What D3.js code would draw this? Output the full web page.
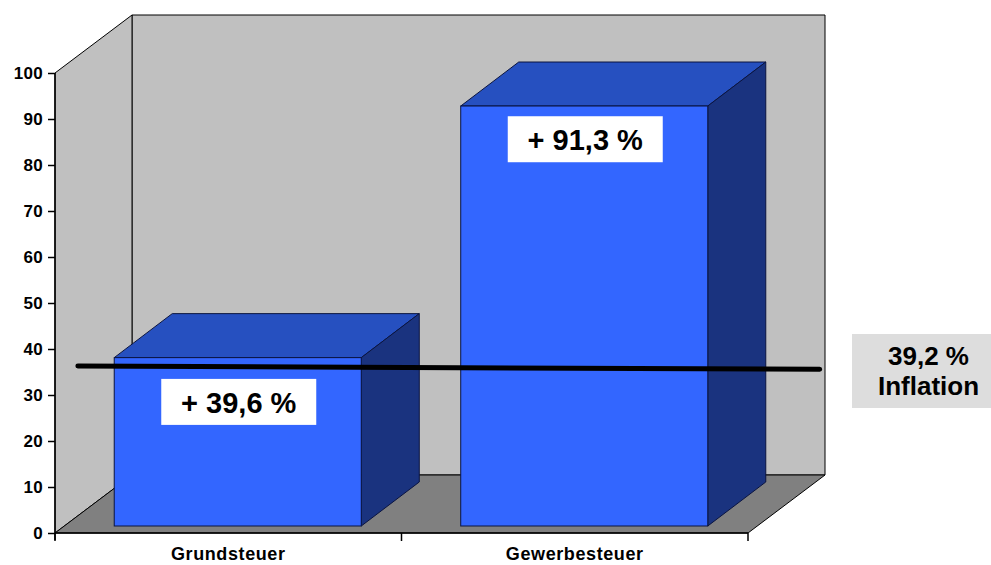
<!DOCTYPE html>
<html>
<head>
<meta charset="utf-8">
<script src="https://cdn.jsdelivr.net/npm/d3@7"></script>
<style>
  body { margin: 0; background: #fff; }
  svg { display: block; font-family: "Liberation Sans", Arial, sans-serif; }
  .tick text { font-weight: bold; }
</style>
</head>
<body>
<svg width="991" height="565"></svg>
<script>
// data
const categories = ['Grundsteuer', 'Gewerbesteuer'];
const barValues = [36.6, 91.3];
const barLabels = ['+ 39,6 %', '+ 91,3 %'];
const labelLevels = [28.5, 85.6];
const yTicks = [0, 10, 20, 30, 40, 50, 60, 70, 80, 90, 100];
const inflationLine = [36.3, 35.6];
const inflationText = ['39,2 %', 'Inflation'];

const svg = d3.select('svg');

// plot geometry
const x0 = 55, x1 = 748, yBottom = 533, yTop = 73;
const depth = { dx: 77, dy: -58 };     // wall depth
const barDepth = { dx: 58, dy: -44 };  // bar depth
const barOff = { dx: 9.5, dy: -7 };    // front gap of bars

const yScale = d3.scaleLinear().domain([0, 100]).range([yBottom, yTop]);
const xScale = d3.scaleBand().domain(categories).range([x0, x1]);
const xPos = d3.scaleLinear().domain([0, 2]).range([x0, x1]);

const poly = pts => 'M' + pts.map(p => p.join(',')).join('L') + 'Z';

// walls
const g = svg.append('g');
g.append('path')
  .attr('d', poly([[x0 + depth.dx, yTop + depth.dy], [x1 + depth.dx, yTop + depth.dy],
    [x1 + depth.dx, yBottom + depth.dy], [x0 + depth.dx, yBottom + depth.dy]]))
  .attr('fill', '#c0c0c0').attr('stroke', '#000').attr('stroke-width', 1);
g.append('path')
  .attr('d', poly([[x0, yBottom], [x0, yTop], [x0 + depth.dx, yTop + depth.dy], [x0 + depth.dx, yBottom + depth.dy]]))
  .attr('fill', '#c0c0c0').attr('stroke', '#000').attr('stroke-width', 1);
g.append('path')
  .attr('d', poly([[x0, yBottom], [x1, yBottom], [x1 + depth.dx, yBottom + depth.dy], [x0 + depth.dx, yBottom + depth.dy]]))
  .attr('fill', '#808080').attr('stroke', '#000').attr('stroke-width', 1);

// bars
const barW = xScale.bandwidth() * 0.713;
const bars = g.selectAll('g.bar').data(categories).enter().append('g').attr('class', 'bar');
bars.each(function (c, i) {
  const b = d3.select(this);
  const cx = xScale(c) + xScale.bandwidth() / 2 + barOff.dx;
  const l = cx - barW / 2, r = cx + barW / 2;
  const bot = yScale(0) + barOff.dy;
  const top = bot - (yScale(0) - yScale(barValues[i]));
  b.append('path')
    .attr('d', poly([[l, top], [r, top], [r + barDepth.dx, top + barDepth.dy], [l + barDepth.dx, top + barDepth.dy]]))
    .attr('fill', '#2650c0').attr('stroke', '#0a1440').attr('stroke-width', 1);
  b.append('path')
    .attr('d', poly([[r, top], [r + barDepth.dx, top + barDepth.dy], [r + barDepth.dx, bot + barDepth.dy], [r, bot]]))
    .attr('fill', '#1a337f').attr('stroke', '#0a1440').attr('stroke-width', 1);
  b.append('rect')
    .attr('x', l).attr('y', top).attr('width', barW).attr('height', bot - top)
    .attr('fill', '#3366ff').attr('stroke', '#0a1440').attr('stroke-width', 1);
});

// inflation line
g.append('line')
  .attr('x1', xPos(0.066)).attr('x2', xPos(2.207))
  .attr('y1', yScale(inflationLine[0])).attr('y2', yScale(inflationLine[1]))
  .attr('stroke', '#000').attr('stroke-width', 5).attr('stroke-linecap', 'round');

// value labels
const labels = g.selectAll('g.lab').data(categories).enter().append('g').attr('class', 'lab')
  .attr('transform', (c, i) => `translate(${xScale(c) + xScale.bandwidth() / 2 + barOff.dx + 1},${yScale(labelLevels[i])})`);
labels.append('rect').attr('x', -77.5).attr('y', -23).attr('width', 155).attr('height', 46).attr('fill', '#fff');
labels.append('text').attr('text-anchor', 'middle').attr('y', 11)
  .attr('font-size', 29).attr('font-weight', 'bold').text((c, i) => barLabels[i]);

// y axis
const yAxis = d3.axisLeft(yScale).tickValues(yTicks).tickSize(7).tickPadding(5);
const yG = svg.append('g').attr('transform', `translate(${x0},0)`).call(yAxis);
yG.select('.domain').attr('d', `M0,${yTop}V${yBottom + 7}`).attr('stroke', '#000').attr('stroke-width', 1.5);
yG.selectAll('.tick line').attr('stroke', '#000').attr('stroke-width', 1.5);
yG.selectAll('.tick text').attr('font-size', 17).attr('letter-spacing', 0.3).attr('fill', '#000')
  .attr('font-family', 'Liberation Sans, Arial, sans-serif');

// x axis
const xAxis = d3.axisBottom(xScale).tickSize(0).tickPadding(14);
const xG = svg.append('g').attr('transform', `translate(0,${yBottom})`).call(xAxis);
xG.select('.domain').attr('d', `M${x0},0H${x1}`).attr('stroke', '#000').attr('stroke-width', 1.5);
xG.selectAll('.tick text').attr('font-size', 18).attr('letter-spacing', 0.6).attr('fill', '#000')
  .attr('font-family', 'Liberation Sans, Arial, sans-serif');
xG.selectAll('line.sep').data([0, 1, 2]).enter().append('line').attr('class', 'sep')
  .attr('x1', d => xPos(d)).attr('x2', d => xPos(d)).attr('y1', 0).attr('y2', 8)
  .attr('stroke', '#000').attr('stroke-width', 1.5);

// inflation box
const ib = svg.append('g').attr('transform', 'translate(852,334)');
ib.append('rect').attr('width', 139).attr('height', 74).attr('fill', '#dddddd');
ib.selectAll('text').data(inflationText).enter().append('text')
  .attr('x', 76.5).attr('y', (d, i) => 31 + i * 30)
  .attr('text-anchor', 'middle').attr('font-size', 26).attr('font-weight', 'bold')
  .text(d => d);
</script>
</body>
</html>
